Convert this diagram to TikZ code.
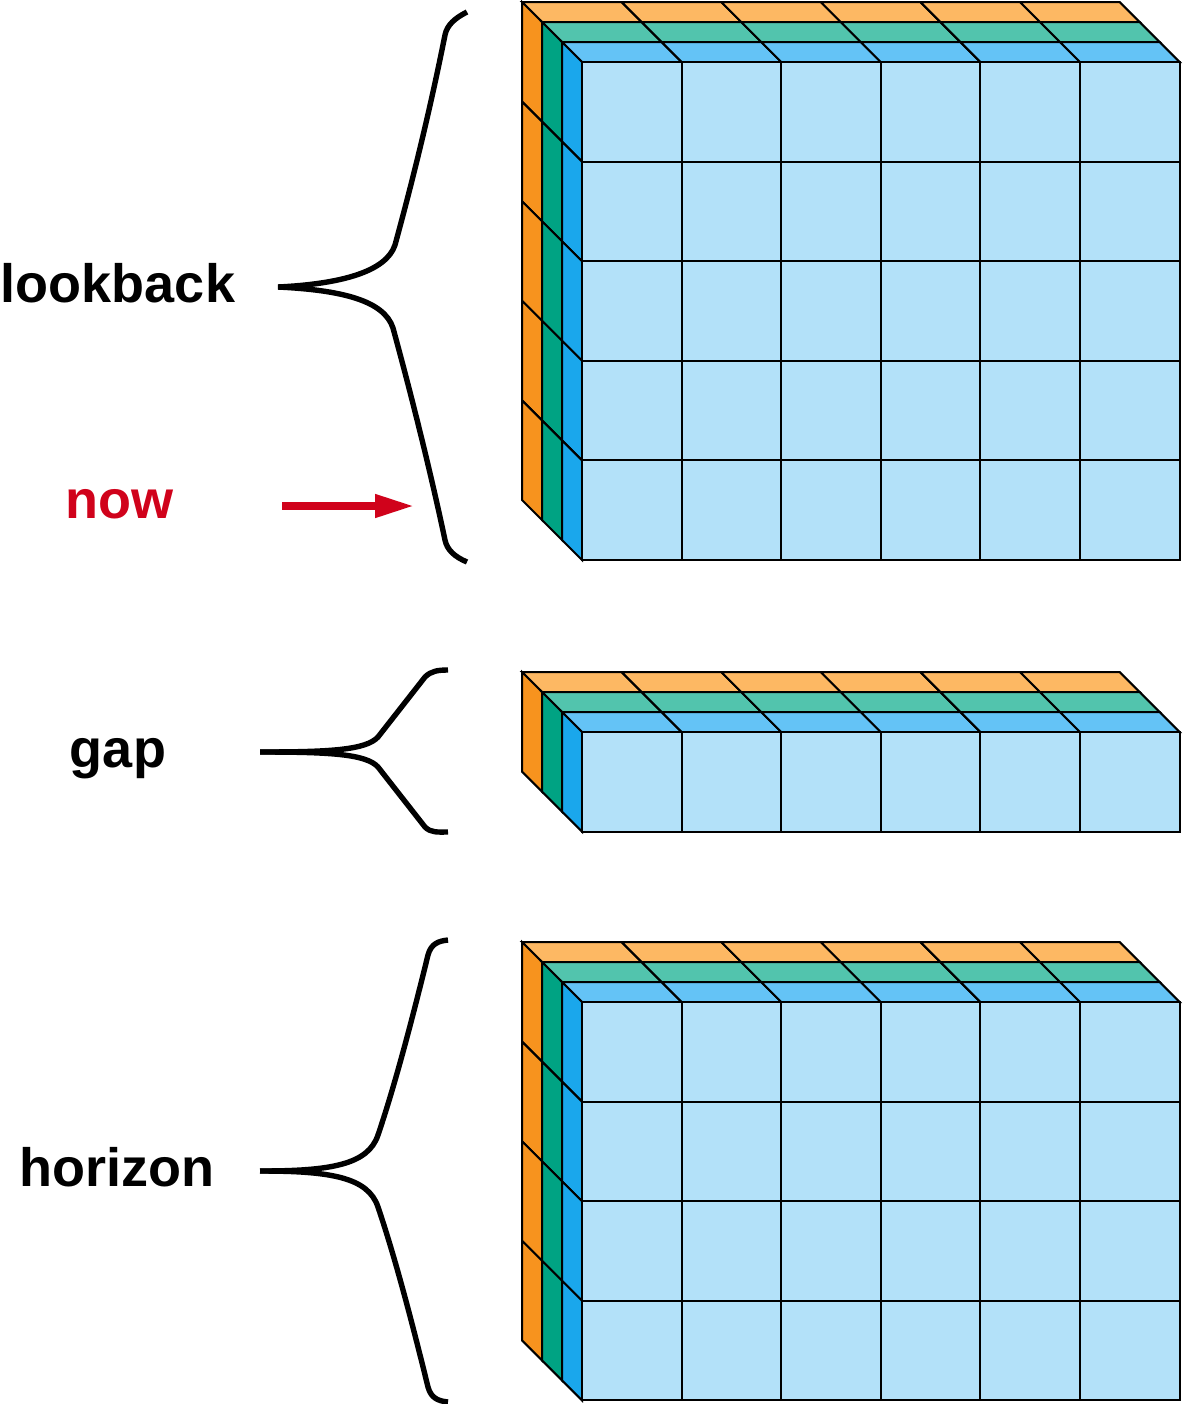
\documentclass[tikz,border=0pt]{standalone}
\usepackage{fontspec}
\setmainfont{Liberation Sans}
\usetikzlibrary{arrows.meta}

\definecolor{orangeside}{HTML}{F7931E}
\definecolor{orangetop}{HTML}{FDB863}
\definecolor{greenside}{HTML}{00A383}
\definecolor{greentop}{HTML}{52C4AD}
\definecolor{blueside}{HTML}{1AA7EC}
\definecolor{bluetop}{HTML}{64C3F6}
\definecolor{bluefront}{HTML}{B3E1F9}
\definecolor{nowred}{HTML}{D0021B}

\begin{document}
\begin{tikzpicture}[
        x=0.5pt, y=-0.5pt,
        cube/.style={draw=black, line width=1pt, line join=miter},
        word/.style={anchor=base, font=\fontsize{27}{30}\selectfont\bfseries},
        brace/.style={draw=black, line width=2.7pt}
        ]
        \useasboundingbox (0,0) rectangle (1186,1404);

        % the three blocks: top edge / number of rows
        \foreach \ytop/\rows in {2/5, 672/1, 942/4} {
            \foreach \lay/\side/\topc in {2/orangeside/orangetop, 1/greenside/greentop, 0/blueside/bluetop} {
                \foreach \i in {0,...,5}
                    \draw [cube, fill=\topc] ({582+99.6*\i-20*\lay}, {\ytop+60-20*\lay}) -- ++(99.6,0) -- ++(-20,-20) -- ++(-99.6,0) -- cycle;
                \foreach \j in {1,...,\rows}
                    \draw [cube, fill=\side] ({582-20*\lay}, {\ytop+60+99.6*(\j-1)-20*\lay}) -- ++(0,99.6) -- ++(-20,-20) -- ++(0,-99.6) -- cycle;
            }
            \foreach \i in {0,...,5}
                \foreach \j in {1,...,\rows}
                    \draw [cube, fill=bluefront] ({582+99.6*\i}, {\ytop+60+99.6*(\j-1)}) rectangle ++(99.6,99.6);
        }

        \node (lookback) [word] at (118,302) {lookback};
        \node (now)      [word, text=nowred] at (119,518) {now};
        \node (gap)      [word] at (118,767) {gap};
        \node (horizon)  [word] at (117,1186) {horizon};

        % braces
        \draw [brace] (467,12) .. controls (455,18) and (447,25) .. (445,35) .. controls (428,120) and (410,190) .. (395,245) .. controls (386,272) and (340,284) .. (278,287);
        \draw [brace] (278,287) .. controls (340,290) and (384,300) .. (393,328) .. controls (408,383) and (428,460) .. (445,540) .. controls (447,550) and (455,557) .. (467,562);

        \draw [brace] (448,670) .. controls (438,670) and (431,671) .. (425,677) -- (378,737) .. controls (366,750) and (330,752) .. (260,752);
        \draw [brace] (260,752) .. controls (330,752) and (366,754) .. (378,767) -- (425,827) .. controls (431,833) and (438,832) .. (448,832);

        \draw [brace] (448,940) .. controls (438,941) and (431,944) .. (428,955) .. controls (412,1020) and (395,1085) .. (378,1135) .. controls (368,1165) and (330,1171) .. (260,1171);
        \draw [brace] (260,1171) .. controls (330,1171) and (368,1177) .. (378,1207) .. controls (395,1257) and (412,1322) .. (428,1387) .. controls (431,1398) and (438,1401) .. (448,1402);

        \coordinate (nowtail) at (282,506);
        \coordinate (nowtip)  at (414,506);
        \draw [-{Triangle[length=19.5pt, width=11pt]}, line width=3.7pt, nowred] (nowtail) -- (nowtip);

    \end{tikzpicture}
\end{document}
